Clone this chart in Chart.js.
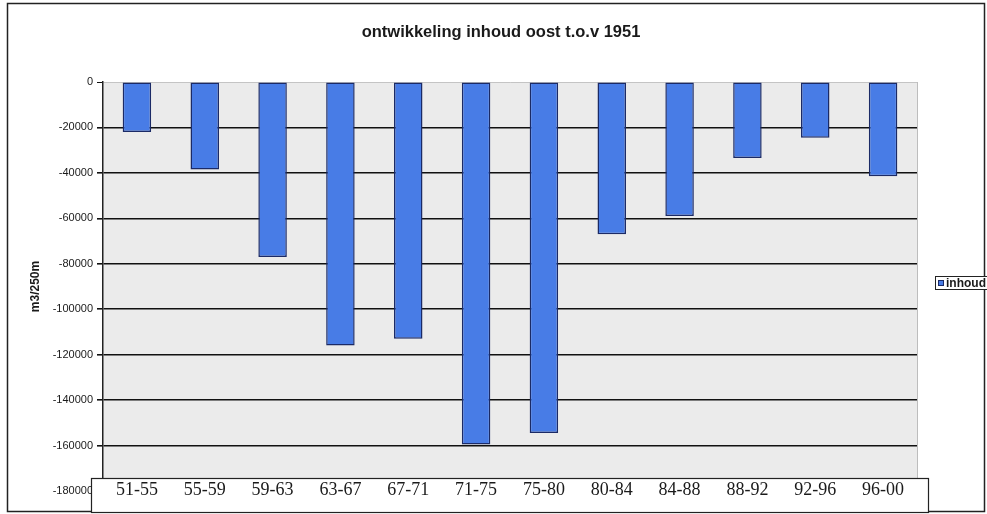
<!DOCTYPE html>
<html><head><meta charset="utf-8">
<script src="https://cdn.jsdelivr.net/npm/chart.js@4/dist/chart.umd.min.js"></script>
<style>html,body{margin:0;padding:0;background:#fff;}#wrap{width:987px;height:514px;}</style>
</head><body><div id="wrap"><canvas id="c" width="987" height="514"></canvas></div>
<script>
const categories = ['51-55','55-59','59-63','63-67','67-71','71-75','75-80','80-84','84-88','88-92','92-96','96-00'];
const inhoud = [-22000,-38500,-77000,-116000,-113000,-159500,-154500,-67000,-59000,-33500,-24500,-41500];
const yMin = -180000;
const yMax = 0;
const yStep = 20000;
const seriesName = 'inhoud';
const chartTitle = 'ontwikkeling inhoud oost t.o.v 1951';
const yTitle = 'm3/250m';

const BAR = 'rgb(72,124,230)';
const BARBORDER = '#1b2a66';

const decor = {
  id: 'decor',
  beforeDraw(chart) {
    const ctx = chart.ctx, a = chart.chartArea;
    ctx.save();
    ctx.fillStyle = '#fff';
    ctx.fillRect(0, 0, chart.width, chart.height);
    ctx.strokeStyle = '#222';
    ctx.lineWidth = 1.5;
    ctx.strokeRect(7.5, 3.5, 977, 508);
    ctx.fillStyle = '#ebebeb';
    ctx.fillRect(a.left, a.top, a.right - a.left, a.bottom - a.top);
    ctx.strokeStyle = '#bdbdbd';
    ctx.lineWidth = 1;
    ctx.beginPath();
    ctx.moveTo(a.right + 0.5, a.top);
    ctx.lineTo(a.right + 0.5, a.bottom);
    ctx.stroke();
    // title
    ctx.fillStyle = '#1a1a1a';
    ctx.font = 'bold 16.5px "Liberation Sans", Arial, sans-serif';
    ctx.textAlign = 'center';
    ctx.textBaseline = 'middle';
    ctx.fillText(chartTitle, 501, 32);
    ctx.restore();
  },
  afterDraw(chart) {
    const ctx = chart.ctx, xs = chart.scales.x;
    ctx.save();
    // category label box
    ctx.fillStyle = '#fff';
    ctx.fillRect(91, 478, 837, 34);
    ctx.strokeStyle = '#222';
    ctx.lineWidth = 1.2;
    ctx.strokeRect(91.5, 478.5, 837, 34);
    ctx.fillStyle = '#1a1a1a';
    ctx.font = '18px "Liberation Serif", serif';
    ctx.textAlign = 'center';
    ctx.textBaseline = 'middle';
    categories.forEach((c, i) => {
      ctx.fillText(c, xs.getPixelForValue(i), 490);
    });
    // legend
    ctx.fillStyle = '#fff';
    ctx.fillRect(935, 276, 60, 14);
    ctx.strokeStyle = '#222';
    ctx.lineWidth = 1;
    ctx.strokeRect(935.5, 276.5, 60, 13);
    ctx.fillStyle = BAR;
    ctx.fillRect(938.5, 280.5, 5, 5);
    ctx.strokeStyle = BARBORDER;
    ctx.strokeRect(938.5, 280.5, 5, 5);
    ctx.fillStyle = '#1a1a1a';
    ctx.font = 'bold 12px "Liberation Sans", Arial, sans-serif';
    ctx.textAlign = 'left';
    ctx.textBaseline = 'middle';
    ctx.fillText(chart.data.datasets[0].label, 946, 283.5);
    ctx.restore();
  }
};

new Chart(document.getElementById('c'), {
  type: 'bar',
  data: {
    labels: categories,
    datasets: [{
      label: seriesName,
      data: inhoud,
      backgroundColor: BAR,
      borderColor: BARBORDER,
      borderWidth: 1.5,
      borderSkipped: false,
      categoryPercentage: 1,
      barPercentage: 0.42
    }]
  },
  options: {
    responsive: false,
    animation: false,
    devicePixelRatio: 1,
    layout: { padding: { left: 8, right: 70, top: 82, bottom: 23 } },
    plugins: {
      legend: { display: false },
      tooltip: { enabled: false },
      title: { display: false }
    },
    scales: {
      x: { display: false },
      y: {
        min: yMin,
        max: yMax,
        afterFit(s) { s.width = 95; s.paddingTop = 0; s.paddingBottom = 0; },
        ticks: {
          stepSize: yStep,
          padding: 4,
          color: '#1a1a1a',
          font: { family: '"Liberation Sans", Arial, sans-serif', size: 11 },
          callback: v => String(v)
        },
        grid: {
          color: c => (c.tick && c.tick.value === 0) ? '#c4c4c4' : '#111',
          lineWidth: c => (c.tick && c.tick.value === 0) ? 1 : 1.6,
          tickColor: '#111',
          tickLength: 6,
          drawTicks: true
        },
        border: { display: true, color: '#222', width: 1.5 },
        title: {
          display: true,
          text: yTitle,
          color: '#1a1a1a',
          font: { family: '"Liberation Sans", Arial, sans-serif', size: 12, weight: 'bold' },
          padding: { top: 20, bottom: 0 }
        }
      }
    }
  },
  plugins: [decor]
});
</script></body></html>
